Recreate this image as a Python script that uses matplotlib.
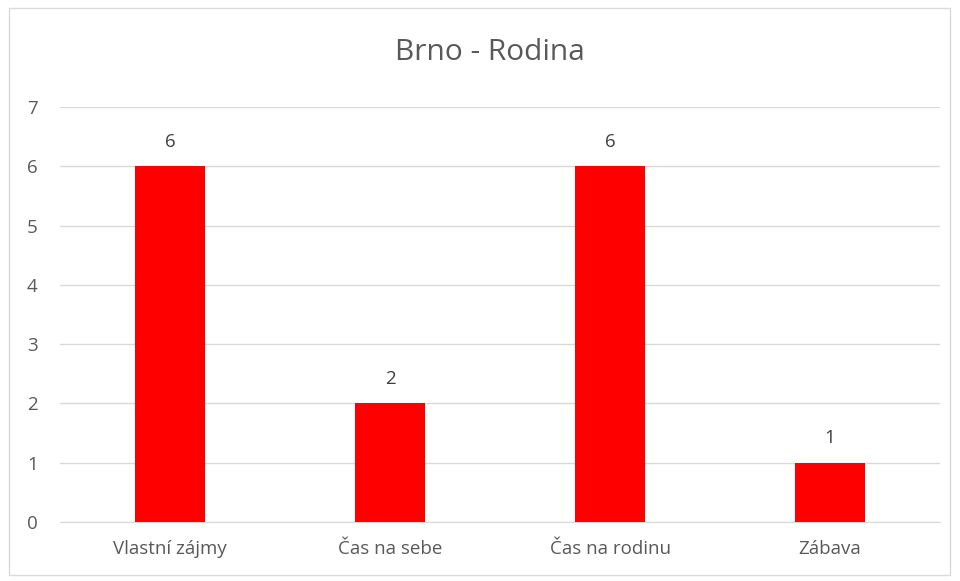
import matplotlib
matplotlib.use('Agg')
from matplotlib import pyplot as plt
from matplotlib.patches import Rectangle

categories = ['Vlastní zájmy', 'Čas na sebe', 'Čas na rodinu', 'Zábava']
values = [6, 2, 6, 1]
title = 'Brno - Rodina'

plt.rcParams['font.family'] = ['Open Sans', 'DejaVu Sans']
grey = '#595959'

fig = plt.figure(figsize=(9.6, 5.81), dpi=100)
fig.patches.append(Rectangle((9 / 960, 6 / 581), 941 / 960, 567 / 581, transform=fig.transFigure,
                             fill=False, edgecolor='#d9d9d9', linewidth=1))
ax = fig.add_axes([60 / 960, 1 - 522 / 581, 880 / 960, 415 / 581])

x = range(len(categories))
bars = ax.bar(x, values, width=0.32, color='#ff0000', zorder=3)
for b, v in zip(bars, values):
    ax.text(b.get_x() + b.get_width() / 2, v + 0.26, str(v), ha='center', va='bottom',
            fontsize=13.5, color='#404040')

ax.set_xlim(-0.5, 3.5)
ax.set_ylim(0, 7)
ax.set_yticks(range(8))
ax.set_xticks(list(x))
ax.set_xticklabels(categories)
ax.grid(axis='y', color='#d9d9d9', linewidth=1, zorder=0)
for s in ['top', 'right', 'left']:
    ax.spines[s].set_visible(False)
ax.spines['bottom'].set_color('#d9d9d9')
ax.tick_params(axis='both', length=0, labelsize=13.5, labelcolor=grey)
ax.tick_params(axis='y', pad=16)
ax.tick_params(axis='x', pad=13)

fig.text(490 / 960, 1 - 53 / 581, title, ha='center', va='center', fontsize=21.5, color=grey)

fig.savefig('out.png', dpi=100)
